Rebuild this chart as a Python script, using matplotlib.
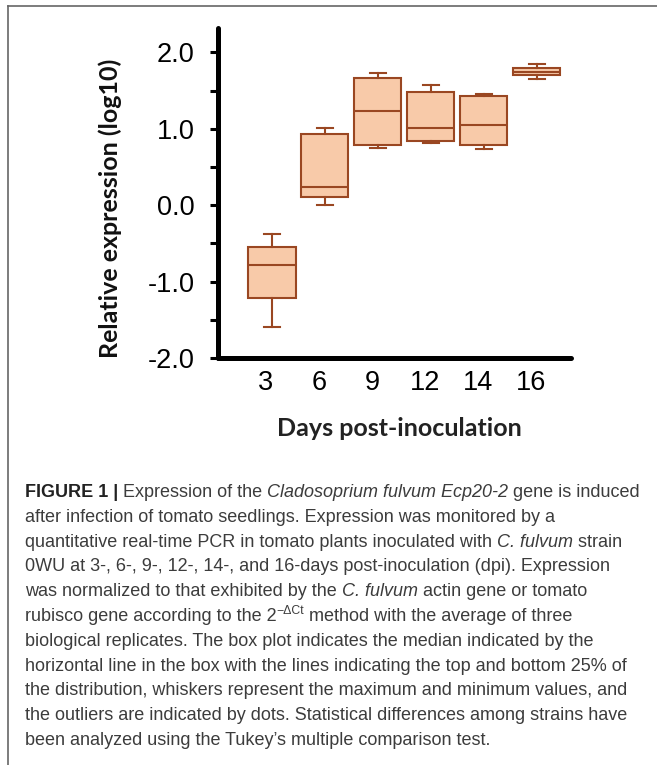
import matplotlib
matplotlib.use("Agg")
import matplotlib.pyplot as plt
import matplotlib.transforms as mtransforms
from matplotlib.lines import Line2D
from matplotlib.ticker import FixedLocator, MultipleLocator

# === data ===
days = ["3", "6", "9", "12", "14", "16"]
whisker_low = [-1.60, 0.00, 0.755, 0.82, 0.73, 1.647]
q1 = [-1.21, 0.11, 0.79, 0.84, 0.79, 1.70]
median = [-0.78, 0.235, 1.23, 1.006, 1.05, 1.75]
q3 = [-0.55, 0.93, 1.665, 1.48, 1.425, 1.80]
whisker_high = [-0.38, 1.006, 1.73, 1.57, 1.45, 1.844]

y_ticks = [-2.0, -1.0, 0.0, 1.0, 2.0]
y_tick_labels = ["-2.0", "-1.0", "0.0", "1.0", "2.0"]

caption = [
    [("FIGURE 1 |", "b"), (" Expression of the ", "n"),
     ("Cladosoprium fulvum Ecp20-2", "i"), (" gene is induced", "n")],
    [("after infection of tomato seedlings. Expression was monitored by a", "n")],
    [("quantitative real-time PCR in tomato plants inoculated with ", "n"),
     ("C. fulvum", "i"), (" strain", "n")],
    [("0WU at 3-, 6-, 9-, 12-, 14-, and 16-days post-inoculation (dpi). Expression", "n")],
    [("was normalized to that exhibited by the ", "n"), ("C. fulvum", "i"),
     (" actin gene or tomato", "n")],
    [("rubisco gene according to the 2", "n"), ("\u2212\u0394Ct", "sup"),
     (" method with the average of three", "n")],
    [("biological replicates. The box plot indicates the median indicated by the", "n")],
    [("horizontal line in the box with the lines indicating the top and bottom 25% of", "n")],
    [("the distribution, whiskers represent the maximum and minimum values, and", "n")],
    [("the outliers are indicated by dots. Statistical differences among strains have", "n")],
    [("been analyzed using the Tukey\u2019s multiple comparison test.", "n")],
]

W, H = 657, 765
FILL = "#f8caa9"
EDGE = "#9a4722"

fig = plt.figure(figsize=(W / 100, H / 100), dpi=100)
ax = fig.add_axes([218 / W, 1 - 358 / H, (571 - 218) / W, (358 - 28) / H])

stats = []
for i in range(len(days)):
    stats.append(dict(whislo=whisker_low[i], q1=q1[i], med=median[i],
                      q3=q3[i], whishi=whisker_high[i], fliers=[], label=days[i]))

positions = list(range(1, len(days) + 1))
ax.bxp(stats, positions=positions, widths=0.89, capwidths=0.3,
       patch_artist=True, showfliers=False,
       boxprops=dict(facecolor=FILL, edgecolor=EDGE, linewidth=1.5),
       whiskerprops=dict(color=EDGE, linewidth=1.5),
       capprops=dict(color=EDGE, linewidth=1.5),
       medianprops=dict(color=EDGE, linewidth=1.5))

ax.set_xlim(-0.02, 6.65)
ax.set_ylim(-2.0, 2.32)

for s in ["top", "right"]:
    ax.spines[s].set_visible(False)
for s in ["left", "bottom"]:
    ax.spines[s].set_linewidth(3.6)
    ax.spines[s].set_capstyle("round")

ax.yaxis.set_major_locator(FixedLocator(y_ticks))
ax.yaxis.set_minor_locator(MultipleLocator(0.5))
ax.set_yticklabels(y_tick_labels)
ax.tick_params(axis="y", which="both", direction="out", length=6, width=2.2,
               pad=11, labelsize=19.5)
ax.tick_params(axis="x", length=0, pad=9, labelsize=19.5)
ax.set_xticks(positions)
ax.set_xticklabels(days)
shift = mtransforms.ScaledTranslation(-6 / 100, 0, fig.dpi_scale_trans)
for lab in ax.get_xticklabels():
    lab.set_transform(lab.get_transform() + shift)
for lab in ax.get_xticklabels() + ax.get_yticklabels():
    lab.set_fontfamily("Liberation Sans")

fig.text(110 / W, 1 - 208 / H, "Relative expression (log10)", rotation=90,
         ha="center", va="center", fontsize=18, fontweight="bold",
         family="Lato", color="#111111")
fig.text(399 / W, 1 - 428 / H, "Days post-inoculation", ha="center",
         va="center", fontsize=18, fontweight="bold", family="Lato",
         color="#222222")

# thin frame (top and left only)
fig.add_artist(Line2D([8 / W, 1.0], [1 - 6 / H, 1 - 6 / H], color="#666666",
                      linewidth=1.2, transform=fig.transFigure))
fig.add_artist(Line2D([8 / W, 8 / W], [1 - 6 / H, 0.0], color="#666666",
                      linewidth=1.2, transform=fig.transFigure))

# === caption, drawn run by run ===
renderer = fig.canvas.get_renderer()
cap_family = ["Liberation Sans Narrow", "Liberation Sans"]


def style_kw(style, size):
    kw = dict(family=cap_family, fontsize=size, color="#3c3c3c")
    if style == "b":
        kw.update(fontweight="bold", color="#222222")
    elif style == "i":
        kw.update(fontstyle="italic")
    elif style == "sup":
        kw.update(fontsize=size * 0.68)
    return kw


def run_width(txt, kw):
    t = fig.text(0, 0, "|" + txt + "|", **kw)
    w = t.get_window_extent(renderer).width
    t.remove()
    t = fig.text(0, 0, "||", **kw)
    w0 = t.get_window_extent(renderer).width
    t.remove()
    return w - w0


base = 10.0
w_first = sum(run_width(txt, style_kw(st, base)) for txt, st in caption[0])
cap_size = base * 618 / w_first

for i, line in enumerate(caption):
    x = 25.0
    y = 497 + 24.8 * i
    for txt, st in line:
        kw = style_kw(st, cap_size)
        dy = -cap_size * 0.55 if st == "sup" else 0
        fig.text(x / W, 1 - (y + dy) / H, txt, ha="left", va="baseline", **kw)
        x += run_width(txt, kw)

fig.savefig("out.png", dpi=100)
